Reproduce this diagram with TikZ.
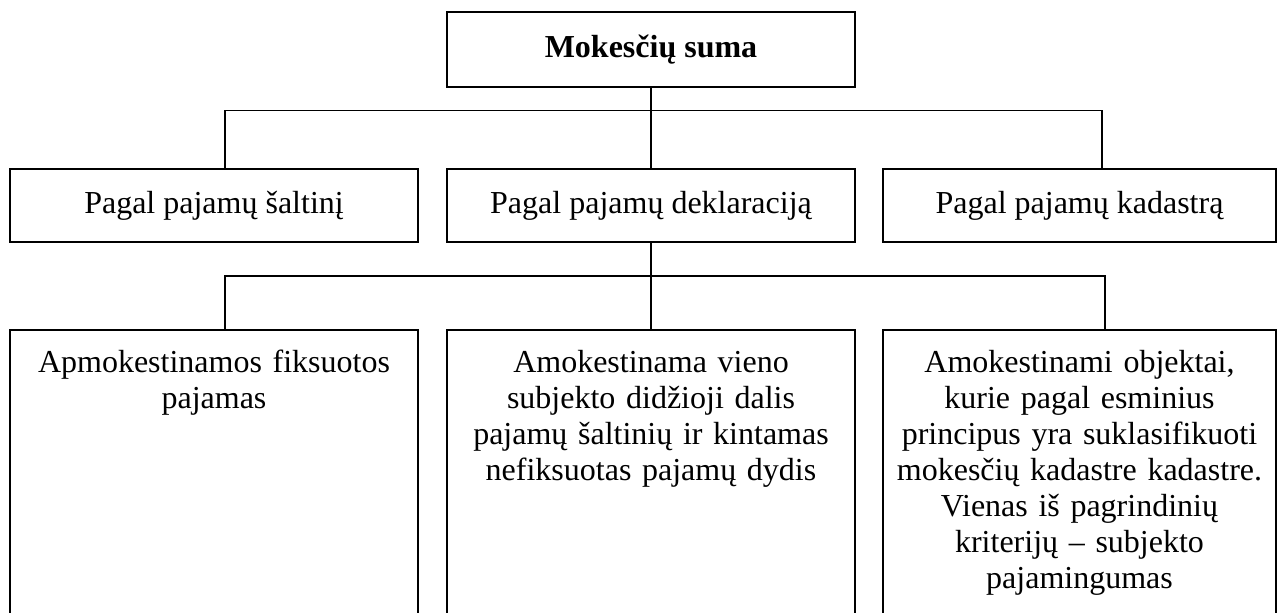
\documentclass[tikz,border=0pt]{standalone}
\usepackage{fontspec}
\setmainfont{Liberation Serif}
\usetikzlibrary{positioning}

\begin{document}
\begin{tikzpicture}[
    x=1pt, y=-1pt,
    every node/.style={font=\fontsize{16}{18}\selectfont},
    box/.style={draw, line width=0.9pt, minimum height=36.5pt, inner sep=0pt, align=center},
    lowbox/.style={draw, line width=0.9pt, anchor=north, minimum height=180pt, inner sep=0pt},
    lowtext/.style={anchor=north, align=center, inner xsep=0pt, inner ysep=8.9pt, execute at begin node=\strut},
    link/.style={line width=0.9pt}
  ]
  \useasboundingbox (0,0) rectangle (640,306.5);
  \def\barA{55.25}
  \def\barB{138}
  \def\lowtop{164.5}

  \node[box, minimum width=204pt, minimum height=37.5pt] (sum) at (325.5,24.75) {\bfseries Mokesčių suma};

  \node[box, minimum width=204pt] (src) at (107,102.75) {Pagal pajamų šaltinį};
  \node[box, minimum width=204pt] (decl) at (325.5,102.75) {Pagal pajamų deklaraciją};
  \node[box, minimum width=196.5pt] (cad) at (539.75,102.75) {Pagal pajamų kadastrą};

  \node[lowbox, minimum width=204pt] (low1) at (107,\lowtop) {};
  \node[lowbox, minimum width=204pt] (low2) at (325.5,\lowtop) {};
  \node[lowbox, minimum width=196.5pt] (low3) at (539.75,\lowtop) {};

  \node[lowtext, text width=200pt, below=0pt of low1.north] (low1t)
    {Apmokestinamos fiksuotos\\ pajamas};
  \node[lowtext, text width=200pt, below=0pt of low2.north] (low2t)
    {Amokestinama vieno\\ subjekto didžioji dalis\\ pajamų šaltinių ir kintamas\\ nefiksuotas pajamų dydis};
  \node[lowtext, text width=192pt, below=0pt of low3.north] (low3t)
    {Amokestinami objektai,\\ kurie pagal esminius\\ principus yra suklasifikuoti\\ mokesčių kadastre kadastre.\\ Vienas iš pagrindinių\\ kriterijų -- subjekto\\ pajamingumas};

  \coordinate (barAl) at (112.5,\barA);
  \coordinate (barAr) at (551,\barA);
  \coordinate (barBl) at (112.5,\barB);
  \coordinate (barBr) at (552.5,\barB);

  \draw[link] (sum.south) -- (sum.south |- barAl);
  \draw[link] (barAl |- src.north) -- (barAl) -- (barAr) -- (barAr |- cad.north);
  \draw[link] (sum.south |- barAl) -- (decl.north);

  \draw[link] (decl.south) -- (decl.south |- barBl);
  \draw[link] (barBl |- low1.north) -- (barBl) -- (barBr) -- (barBr |- low3.north);
  \draw[link] (decl.south |- barBl) -- (low2.north);
\end{tikzpicture}
\end{document}
